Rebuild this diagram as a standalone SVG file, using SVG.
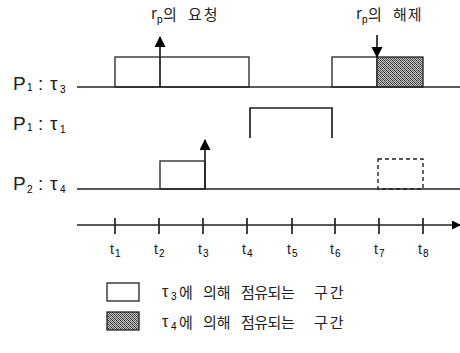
<svg xmlns="http://www.w3.org/2000/svg" width="460" height="353" viewBox="0 0 460 353">
<style>
  .ln{stroke:#222;stroke-width:1.7;fill:none}
  .bx{stroke:#222;stroke-width:1.3;fill:#fff}
  .sh{stroke:#222;stroke-width:1.3;fill:url(#dots)}
  .dash{stroke:#222;stroke-width:1.4;fill:none;stroke-dasharray:4,3}
  .lbl{font-family:"Liberation Sans","Noto Sans CJK KR",sans-serif;font-size:19px;fill:#222}
  .kr{font-family:"Noto Sans CJK KR","Liberation Sans",sans-serif;font-size:15px;fill:#222}
  .t{font-family:"Liberation Sans",sans-serif;font-size:14px;fill:#222}
  .sub{font-family:"Liberation Sans",sans-serif;font-size:10px}
</style>
<defs>
  <pattern id="dots" width="4" height="4" patternUnits="userSpaceOnUse">
    <rect width="4" height="4" fill="#c8c8c8"/>
    <rect x="0" y="0" width="1" height="1" fill="#222"/>
    <rect x="2" y="0" width="1" height="1" fill="#555"/>
    <rect x="1" y="1" width="1" height="1" fill="#444"/>
    <rect x="3" y="1" width="1" height="1" fill="#777"/>
    <rect x="0" y="2" width="1" height="1" fill="#555"/>
    <rect x="2" y="2" width="1" height="1" fill="#222"/>
    <rect x="1" y="3" width="1" height="1" fill="#666"/>
    <rect x="3" y="3" width="1" height="1" fill="#333"/>
  </pattern>
  <marker id="ah" markerWidth="12" markerHeight="12" refX="10" refY="5.5" orient="auto" markerUnits="userSpaceOnUse">
    <path d="M0,0 L11,5.5 L0,11 Z" fill="#000"/>
  </marker>
  <marker id="ax" markerWidth="10" markerHeight="10" refX="8" refY="4.5" orient="auto" markerUnits="userSpaceOnUse">
    <path d="M0,0 L9,4.5 L0,9 Z" fill="#000"/>
  </marker>
</defs>

<g id="label-p1-t3">
  <text class="lbl" x="13" y="90">P</text><text class="sub" x="27" y="91">1</text>
  <text class="lbl" x="38" y="90">:</text><text class="lbl" x="50" y="90">τ</text><text class="sub" x="60" y="93">3</text>
</g>
<g id="label-p1-t1">
  <text class="lbl" x="13" y="130">P</text><text class="sub" x="27" y="131">1</text>
  <text class="lbl" x="38" y="130">:</text><text class="lbl" x="50" y="130">τ</text><text class="sub" x="60" y="133">1</text>
</g>
<g id="label-p2-t4">
  <text class="lbl" x="13" y="190">P</text><text class="sub" x="27" y="193">2</text>
  <text class="lbl" x="38" y="190">:</text><text class="lbl" x="50" y="190">τ</text><text class="sub" x="60" y="193">4</text>
</g>

<g id="row-p1-t3">
  <rect class="bx" x="115" y="57" width="134" height="30"/>
  <rect class="bx" x="332" y="57" width="45" height="30"/>
  <rect class="sh" x="377" y="57" width="46" height="30"/>
  <line class="ln" x1="77" y1="87" x2="460" y2="87"/>
</g>

<g id="row-p1-t1">
  <polyline class="ln" points="250,138 250,108 332,108 332,138"/>
</g>

<g id="row-p2-t4">
  <rect class="bx" x="160" y="161" width="45" height="28"/>
  <rect class="dash" x="378" y="159" width="45" height="30"/>
  <line class="ln" x1="77" y1="189" x2="460" y2="189"/>
</g>

<g id="connectors">
  <line class="ln" x1="160" y1="87" x2="160" y2="37" stroke-width="2" marker-end="url(#ah)"/>
  <line class="ln" x1="205" y1="189" x2="205" y2="140" stroke-width="2" marker-end="url(#ah)"/>
  <line class="ln" x1="377" y1="35" x2="377" y2="57" stroke-width="2" marker-end="url(#ah)"/>
  <line class="ln" x1="77" y1="225" x2="460" y2="225" marker-end="url(#ax)"/>
</g>

<g id="request">
  <text class="kr" x="151" y="19">r</text><text class="sub" x="157" y="23">p</text>
  <text class="kr" x="163" y="20">의</text><text class="kr" x="188" y="20" letter-spacing="2">요청</text>
</g>
<g id="release">
  <text class="kr" x="356" y="19">r</text><text class="sub" x="362" y="23">p</text>
  <text class="kr" x="368" y="20">의</text><text class="kr" x="393" y="20" letter-spacing="1">해제</text>
</g>

<g id="axis" class="ln">
  <line x1="115" y1="218" x2="115" y2="234"/>
  <line x1="159" y1="218" x2="159" y2="234"/>
  <line x1="203" y1="218" x2="203" y2="234"/>
  <line x1="247" y1="218" x2="247" y2="234"/>
  <line x1="292" y1="218" x2="292" y2="234"/>
  <line x1="335" y1="218" x2="335" y2="234"/>
  <line x1="379" y1="218" x2="379" y2="234"/>
  <line x1="423" y1="218" x2="423" y2="234"/>
</g>
<g id="ticks-labels">
  <text class="t" x="110" y="254">t</text><text class="sub" x="115" y="257">1</text>
  <text class="t" x="154" y="254">t</text><text class="sub" x="159" y="257">2</text>
  <text class="t" x="198" y="254">t</text><text class="sub" x="203" y="257">3</text>
  <text class="t" x="242" y="254">t</text><text class="sub" x="247" y="257">4</text>
  <text class="t" x="287" y="254">t</text><text class="sub" x="292" y="257">5</text>
  <text class="t" x="330" y="254">t</text><text class="sub" x="335" y="257">6</text>
  <text class="t" x="374" y="254">t</text><text class="sub" x="379" y="257">7</text>
  <text class="t" x="418" y="254">t</text><text class="sub" x="423" y="257">8</text>
</g>

<g id="legend-t3">
  <rect class="bx" x="107" y="283" width="32" height="18"/>
  <text class="lbl" x="162" y="297" style="font-size:16px">τ</text><text class="sub" x="171" y="300">3</text>
  <text class="kr" x="179" y="298">에</text><text class="kr" x="203" y="298">의해</text><text class="kr" x="241" y="298" letter-spacing="-0.5">점유되는</text><text class="kr" x="314" y="298" letter-spacing="2">구간</text>
</g>
<g id="legend-t4">
  <rect class="sh" x="107" y="312" width="32" height="18"/>
  <text class="lbl" x="162" y="327" style="font-size:16px">τ</text><text class="sub" x="171" y="330">4</text>
  <text class="kr" x="179" y="328">에</text><text class="kr" x="203" y="328">의해</text><text class="kr" x="241" y="328" letter-spacing="-0.5">점유되는</text><text class="kr" x="314" y="328" letter-spacing="2">구간</text>
</g>
</svg>
